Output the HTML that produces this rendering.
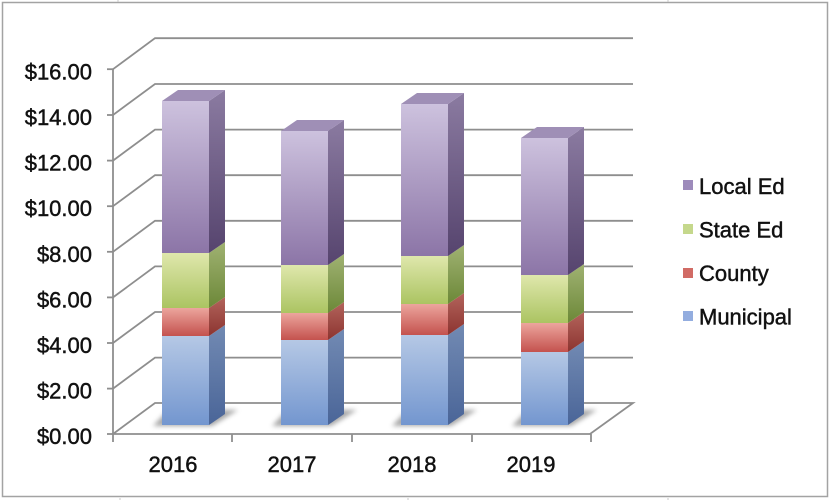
<!DOCTYPE html>
<html>
<head>
<meta charset="utf-8">
<style>
  html,body{margin:0;padding:0;background:#fff;}
  svg{display:block;}
  text{font-family:"Liberation Sans",Arial,sans-serif;fill:#111;stroke:#111;stroke-width:0.45px;}
</style>
</head>
<body>
<svg width="830" height="500" viewBox="0 0 830 500" xmlns="http://www.w3.org/2000/svg">
  <defs>
    <linearGradient id="pF" x1="0" y1="0" x2="0" y2="1"><stop offset="0" stop-color="#cdc2de"/><stop offset="1" stop-color="#8c75a7"/></linearGradient>
    <linearGradient id="pS" x1="0" y1="0" x2="0" y2="1"><stop offset="0" stop-color="#8b7ba1"/><stop offset="1" stop-color="#56446e"/></linearGradient>
    <linearGradient id="gF" x1="0" y1="0" x2="0" y2="1"><stop offset="0" stop-color="#dfe7ac"/><stop offset="1" stop-color="#abc462"/></linearGradient>
    <linearGradient id="gS" x1="0" y1="0" x2="0" y2="1"><stop offset="0" stop-color="#a0b272"/><stop offset="1" stop-color="#6c8838"/></linearGradient>
    <linearGradient id="rF" x1="0" y1="0" x2="0" y2="1"><stop offset="0" stop-color="#eca59d"/><stop offset="1" stop-color="#c4524e"/></linearGradient>
    <linearGradient id="rS" x1="0" y1="0" x2="0" y2="1"><stop offset="0" stop-color="#b3645c"/><stop offset="1" stop-color="#8c3430"/></linearGradient>
    <linearGradient id="bF" x1="0" y1="0" x2="0" y2="1"><stop offset="0" stop-color="#b5c8e5"/><stop offset="1" stop-color="#7396cf"/></linearGradient>
    <linearGradient id="bS" x1="0" y1="0" x2="0" y2="1"><stop offset="0" stop-color="#728ab3"/><stop offset="1" stop-color="#4a6598"/></linearGradient>
    <filter id="blur" x="-20%" y="-50%" width="140%" height="200%"><feGaussianBlur stdDeviation="2.5"/></filter>
  </defs>

  <rect x="2.5" y="2.5" width="825" height="494" fill="#fff" stroke="#a3a3a3" stroke-width="1.5"/>
  <g stroke="#c8c8c8" stroke-width="1">
    <line x1="118" y1="0" x2="118" y2="2"/><line x1="668" y1="0" x2="668" y2="2"/>
    <line x1="120" y1="498" x2="120" y2="500"/><line x1="408" y1="498" x2="408" y2="500"/><line x1="668" y1="498" x2="668" y2="500"/>
  </g>

  <g stroke="#8e8e8e" stroke-width="1.8" fill="none">
    <polyline points="113,69.2 155,38.2 633,38.2"/>
    <polyline points="113,115 155,84 633,84"/>
    <polyline points="113,160.6 155,129.6 633,129.6"/>
    <polyline points="113,206.2 155,175.2 633,175.2"/>
    <polyline points="113,251.8 155,220.8 633,220.8"/>
    <polyline points="113,297.4 155,266.4 633,266.4"/>
    <polyline points="113,343 155,312 633,312"/>
    <polyline points="113,388.6 155,357.6 633,357.6"/>
    <polyline points="113,434 155,403 633,403 590,434 113,434"/>
    <line x1="113" y1="69" x2="113" y2="434"/>
    <line x1="107" y1="69.2" x2="113" y2="69.2"/>
    <line x1="107" y1="115" x2="113" y2="115"/>
    <line x1="107" y1="160.6" x2="113" y2="160.6"/>
    <line x1="107" y1="206.2" x2="113" y2="206.2"/>
    <line x1="107" y1="251.8" x2="113" y2="251.8"/>
    <line x1="107" y1="297.4" x2="113" y2="297.4"/>
    <line x1="107" y1="343" x2="113" y2="343"/>
    <line x1="107" y1="388.6" x2="113" y2="388.6"/>
    <line x1="107" y1="434" x2="113" y2="434"/>
    <line x1="113" y1="434" x2="113" y2="442"/>
    <line x1="232" y1="434" x2="232" y2="442"/>
    <line x1="352" y1="434" x2="352" y2="442"/>
    <line x1="472" y1="434" x2="472" y2="442"/>
    <line x1="591" y1="434" x2="591" y2="442"/>
  </g>

  <g fill="#8a8a8a" opacity="0.75" filter="url(#blur)">
    <polygon points="153,426 212,426 238,410 168,410"/>
    <polygon points="272,426 331,426 357,410 287,410"/>
    <polygon points="392,426 451,426 477,410 407,410"/>
    <polygon points="512,426 571,426 597,410 527,410"/>
  </g>

  <g>
    <rect x="162" y="336" width="47" height="89" fill="url(#bF)"/>
    <polygon points="209,425 225,414 225,325 209,336" fill="url(#bS)"/>
    <rect x="162" y="308" width="47" height="28" fill="url(#rF)"/>
    <polygon points="209,336 225,325 225,297 209,308" fill="url(#rS)"/>
    <rect x="162" y="253" width="47" height="55" fill="url(#gF)"/>
    <polygon points="209,308 225,297 225,242 209,253" fill="url(#gS)"/>
    <rect x="162" y="101" width="47" height="152" fill="url(#pF)"/>
    <polygon points="209,253 225,242 225,90 209,101" fill="url(#pS)"/>
    <polygon points="162,101 178,90 225,90 209,101" fill="#9f8fb6"/>
  </g>
  <g>
    <rect x="281" y="340" width="47" height="85" fill="url(#bF)"/>
    <polygon points="328,425 344,414 344,329 328,340" fill="url(#bS)"/>
    <rect x="281" y="313" width="47" height="27" fill="url(#rF)"/>
    <polygon points="328,340 344,329 344,302 328,313" fill="url(#rS)"/>
    <rect x="281" y="265" width="47" height="48" fill="url(#gF)"/>
    <polygon points="328,313 344,302 344,254 328,265" fill="url(#gS)"/>
    <rect x="281" y="131" width="47" height="134" fill="url(#pF)"/>
    <polygon points="328,265 344,254 344,120 328,131" fill="url(#pS)"/>
    <polygon points="281,131 297,120 344,120 328,131" fill="#9f8fb6"/>
  </g>
  <g>
    <rect x="401" y="335" width="47" height="90" fill="url(#bF)"/>
    <polygon points="448,425 464,414 464,324 448,335" fill="url(#bS)"/>
    <rect x="401" y="304" width="47" height="31" fill="url(#rF)"/>
    <polygon points="448,335 464,324 464,293 448,304" fill="url(#rS)"/>
    <rect x="401" y="256" width="47" height="48" fill="url(#gF)"/>
    <polygon points="448,304 464,293 464,245 448,256" fill="url(#gS)"/>
    <rect x="401" y="104" width="47" height="152" fill="url(#pF)"/>
    <polygon points="448,256 464,245 464,93 448,104" fill="url(#pS)"/>
    <polygon points="401,104 417,93 464,93 448,104" fill="#9f8fb6"/>
  </g>
  <g>
    <rect x="521" y="352" width="47" height="73" fill="url(#bF)"/>
    <polygon points="568,425 584,414 584,341 568,352" fill="url(#bS)"/>
    <rect x="521" y="323" width="47" height="29" fill="url(#rF)"/>
    <polygon points="568,352 584,341 584,312 568,323" fill="url(#rS)"/>
    <rect x="521" y="275" width="47" height="48" fill="url(#gF)"/>
    <polygon points="568,323 584,312 584,264 568,275" fill="url(#gS)"/>
    <rect x="521" y="138" width="47" height="137" fill="url(#pF)"/>
    <polygon points="568,275 584,264 584,127 568,138" fill="url(#pS)"/>
    <polygon points="521,138 537,127 584,127 568,138" fill="#9f8fb6"/>
  </g>

  <g font-size="22" text-anchor="end">
    <text x="92" y="79.5">$16.00</text>
    <text x="92" y="125">$14.00</text>
    <text x="92" y="170.5">$12.00</text>
    <text x="92" y="216">$10.00</text>
    <text x="92" y="262">$8.00</text>
    <text x="92" y="307.5">$6.00</text>
    <text x="92" y="353">$4.00</text>
    <text x="92" y="398.5">$2.00</text>
    <text x="92" y="444">$0.00</text>
  </g>

  <g font-size="22" text-anchor="middle">
    <text x="173" y="472">2016</text>
    <text x="292" y="472">2017</text>
    <text x="412" y="472">2018</text>
    <text x="531" y="472">2019</text>
  </g>

  <rect x="683" y="180" width="10" height="10" fill="#9d8bbb"/>
  <text x="699" y="194" font-size="22">Local Ed</text>
  <rect x="683" y="224" width="10" height="10" fill="#c5d88c"/>
  <text x="699" y="237.5" font-size="22">State Ed</text>
  <rect x="683" y="268" width="10" height="10" fill="#d16b65"/>
  <text x="699" y="281" font-size="22">County</text>
  <rect x="683" y="311" width="10" height="10" fill="#93addf"/>
  <text x="699" y="324.5" font-size="22">Municipal</text>
</svg>
</body>
</html>
